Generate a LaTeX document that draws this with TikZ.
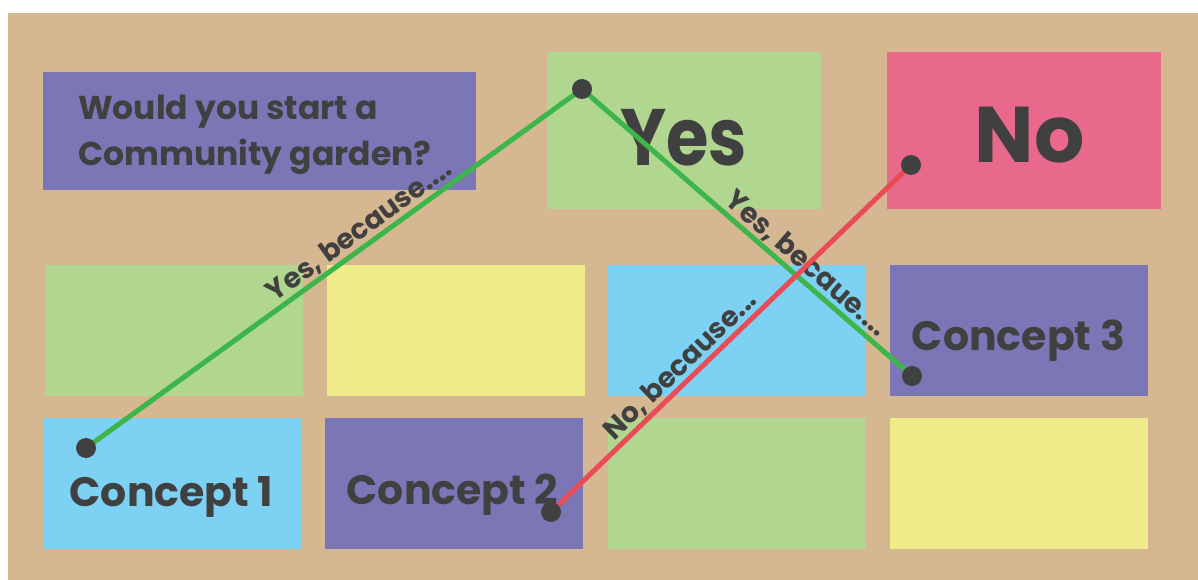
\documentclass[tikz,border=0pt]{standalone}
\usepackage{fontspec}
\setmainfont{Poppins}
\definecolor{tan}{HTML}{D5B891}
\definecolor{cpurple}{HTML}{7B76B6}
\definecolor{cgreen}{HTML}{B1D690}
\definecolor{cyellow}{HTML}{F0EC8A}
\definecolor{cblue}{HTML}{7DD1F2}
\definecolor{cpink}{HTML}{E8698B}
\definecolor{lgreen}{HTML}{3CB64A}
\definecolor{lred}{HTML}{E94B57}
\definecolor{dark}{HTML}{404040}
\tikzset{
  box/.style={rectangle, draw=none, inner sep=0pt, outer sep=0pt},
  wide/.style={minimum width=258pt, minimum height=131pt},
  txt/.style={text=dark, inner sep=0pt, anchor=base},
  conn/.style={line width=5pt},
  dot/.style={fill=dark},
  lab/.style={text=dark, font=\fontsize{28}{28}\selectfont\bfseries, sloped, above, inner sep=1pt}
}
\begin{document}
\begin{tikzpicture}[x=1pt,y=-1pt]
\useasboundingbox (0,0) rectangle (1198,580);
\fill[white] (0,0) rectangle (1198,580);
\fill[tan] (8,13) rectangle (1198,580);
% boxes
\node[box, fill=cpurple, minimum width=433pt, minimum height=118pt] (q) at (259.5,131) {};
\node[box, fill=cgreen, minimum width=274pt, minimum height=157pt] (yes) at (684,130.5) {};
\node[box, fill=cpink, minimum width=274pt, minimum height=157pt] (no) at (1024,130.5) {};
\node[box, wide, fill=cgreen] (r2a) at (174,330.5) {};
\node[box, wide, fill=cyellow] (r2b) at (455.5,330.5) {};
\node[box, wide, fill=cblue] (r2c) at (736.5,330.5) {};
\node[box, wide, fill=cpurple] (r2d) at (1018.5,330.5) {};
\node[box, wide, fill=cblue] (r3a) at (172,483.5) {};
\node[box, wide, fill=cpurple] (r3b) at (454,483.5) {};
\node[box, wide, fill=cgreen] (r3c) at (736.5,483.5) {};
\node[box, wide, fill=cyellow] (r3d) at (1018.5,483.5) {};
% texts
\node[txt, anchor=base west, align=left, font=\fontsize{33}{45}\selectfont\bfseries] (qt) at (78,165) {Would you start a\\Community garden?};
\node[txt, font=\fontsize{80}{80}\selectfont\bfseries] (yt) at (683.5,165) {\scalebox{0.86}[1]{Yes}};
\node[txt, font=\fontsize{79}{79}\selectfont\bfseries] (nt) at (1029.5,163) {No};
\node[txt, font=\fontsize{41}{41}\selectfont\bfseries] (c1) at (171.5,506) {Concept 1};
\node[txt, font=\fontsize{41}{41}\selectfont\bfseries] (c2) at (452.5,504) {Concept 2};
\node[txt, font=\fontsize{41}{41}\selectfont\bfseries] (c3) at (1018.5,350) {Concept 3};
% dots
\coordinate (d1) at (86,448);
\coordinate (d2) at (582,89);
\coordinate (d3) at (912,376);
\coordinate (d4) at (551,512);
\coordinate (d5) at (911,165);
\draw[conn, lgreen] (d1) -- node[lab, pos=0.57] (l1) {Yes, because....} (d2);
\draw[conn, lgreen] (d2) -- node[lab, pos=0.65] (l2) {Yes, becaue....} (d3);
\draw[conn, lred] (d4) -- node[lab, pos=0.39] (l3) {No, because...} (d5);
\foreach \d in {d1,d2,d3,d4,d5} \fill[dot] (\d) circle (10pt);
\end{tikzpicture}
\end{document}
